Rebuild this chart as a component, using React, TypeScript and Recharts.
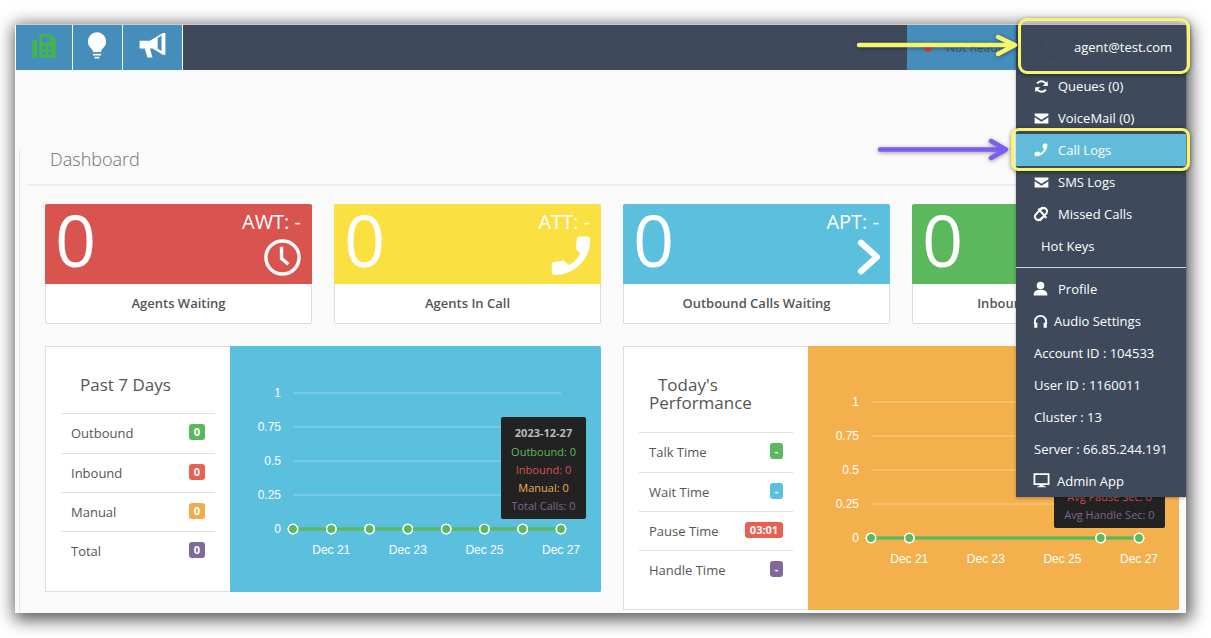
import React from 'react';
import { LineChart, Line, XAxis, YAxis, CartesianGrid, Tooltip } from 'recharts';

// chart values
const dayLabels = ['Dec 20', 'Dec 21', 'Dec 22', 'Dec 23', 'Dec 24', 'Dec 25', 'Dec 26', 'Dec 27'];
const dayDates = ['2023-12-20', '2023-12-21', '2023-12-22', '2023-12-23', '2023-12-24', '2023-12-25', '2023-12-26', '2023-12-27'];
const xTicks = ['Dec 21', 'Dec 23', 'Dec 25', 'Dec 27'];
const yTicks = [0, 0.25, 0.5, 0.75, 1];

const outbound = [0, 0, 0, 0, 0, 0, 0, 0];
const inbound = [0, 0, 0, 0, 0, 0, 0, 0];
const manual = [0, 0, 0, 0, 0, 0, 0, 0];
const totalCalls = [0, 0, 0, 0, 0, 0, 0, 0];

const avgTalk = [0, 0, 0, 0, 0, 0, 0, 0];
const avgWait = [0, 0, 0, 0, 0, 0, 0, 0];
const avgPause = [0, 0, 0, 0, 0, 0, 0, 0];
const avgHandle = [0, 0, 0, 0, 0, 0, 0, 0];

// today's chart only shows markers on these days
const todayMarkedDays = ['Dec 20', 'Dec 21', 'Dec 26', 'Dec 27'];

const GREEN = '#5cb85c';
const RED = '#d9534f';
const ORANGE = '#f0ad4e';
const BLUE = '#5bc0de';
const PURPLE = '#7d6690';
const NAVY = '#3e4a5c';
const FONT = '"Open Sans", sans-serif';

const weekSeries = [
  { name: 'Outbound', values: outbound, color: GREEN },
  { name: 'Inbound', values: inbound, color: RED },
  { name: 'Manual', values: manual, color: ORANGE },
  { name: 'Total Calls', values: totalCalls, color: PURPLE },
];
const todaySeries = [
  { name: 'Avg Talk Sec', values: avgTalk, color: GREEN },
  { name: 'Avg Wait Sec', values: avgWait, color: BLUE },
  { name: 'Avg Pause Sec', values: avgPause, color: RED },
  { name: 'Avg Handle Sec', values: avgHandle, color: PURPLE },
];

const Box = ({ x, y, w, h, style, children }: any) => (
  <div style={{ position: 'absolute', left: x, top: y, width: w, height: h, boxSizing: 'border-box', ...style }}>
    {children}
  </div>
);

// text placed by its vertical centre
const Txt = ({ x, y, right, center, size = 13, color = '#555', weight = 400, children }: any) => (
  <div
    style={{
      position: 'absolute',
      left: center !== undefined ? center - 200 : x,
      width: center !== undefined ? 400 : undefined,
      right: right,
      textAlign: center !== undefined ? 'center' : undefined,
      top: y,
      transform: 'translateY(-50%)',
      fontFamily: FONT,
      fontSize: size,
      fontWeight: weight,
      color,
      lineHeight: 1,
      whiteSpace: 'nowrap',
    }}
  >
    {children}
  </div>
);

const Icon = ({ x, y, size = 16, view = '0 0 24 24', children }: any) => (
  <svg style={{ position: 'absolute', left: x, top: y }} width={size} height={size} viewBox={view}>
    {children}
  </svg>
);

const phonePath =
  'M20 15.5c-1.2 0-2.5-.2-3.6-.6-.3-.1-.7 0-1 .2l-2.2 2.2c-2.8-1.4-5.2-3.8-6.6-6.6l2.2-2.2c.3-.3.4-.7.2-1-.3-1.1-.5-2.4-.5-3.6 0-.6-.4-1-1-1H4c-.5 0-1 .5-1 1 0 9.4 7.6 17 17 17 .5 0 1-.5 1-1v-3.5c0-.5-.5-.9-1-.9z';

const PhoneIcon = (p: any) => (
  <Icon {...p}>
    <path d={phonePath} fill="#fff" stroke="#fff" strokeWidth={1.2} strokeLinejoin="round" transform="matrix(-1 0 0 1 24 0)" />
  </Icon>
);

const MailIcon = (p: any) => (
  <Icon {...p}>
    <path d="M1 4h22v3l-11 7L1 7z M1 10l11 7 11-7v10H1z" fill="#fff" />
  </Icon>
);

const Badge = ({ x, y, w = 16, color, text }: any) => (
  <Box x={x} y={y} w={w} h={16} style={{ background: color, borderRadius: 3, color: '#fff', fontFamily: FONT, fontSize: 11, fontWeight: 700, textAlign: 'center', lineHeight: '16px' }}>
    {text}
  </Box>
);

const StatCard = ({ x, color, big, label, title, icon }: any) => (
  <>
    <Box x={x} y={204} w={267} h={120} style={{ background: '#fff', border: '1px solid #ddd', borderRadius: 2 }} />
    <Box x={x} y={204} w={267} h={80} style={{ background: color, borderRadius: '2px 2px 0 0' }} />
    <Txt x={x + 10} y={239} size={72} color="#fff" weight={400}>{big}</Txt>
    {label ? <Txt right={1211 - x - 256} y={222} size={20} color="#fff">{label}</Txt> : null}
    <Txt center={x + 133.5} y={303} size={13} color="#555" weight={600}>{title}</Txt>
    {icon}
  </>
);

const chartTooltip = (series: any[]) => ({ payload }: any) => {
  if (!payload || !payload.length) return null;
  return (
    <div
      style={{
        background: '#222',
        borderRadius: 2,
        padding: '7px 0 4px',
        textAlign: 'center',
        fontFamily: FONT,
        fontSize: 11,
        lineHeight: '18px',
        whiteSpace: 'nowrap',
      }}
    >
      <div style={{ color: '#bbb', fontWeight: 700, marginBottom: 1 }}>{payload[0].payload.date}</div>
      {series.map((s) => {
        const item = payload.find((p: any) => p.name === s.name);
        return (
          <div key={s.name} style={{ color: s.color }}>
            {s.name}: {item ? item.value : 0}
          </div>
        );
      })}
    </div>
  );
};

const TrendChart = ({ x, y, w, h, series, markedDays, tipX, tipY, tipW }: any) => {
  const rows = dayLabels.map((day, i) => {
    const row: any = { day, date: dayDates[i] };
    series.forEach((s: any) => {
      row[s.name] = s.values[i];
    });
    return row;
  });
  const TipContent = chartTooltip(series);
  const renderDot = (color: string) => (props: any) => {
    const { cx, cy, index, payload } = props;
    if (markedDays && !markedDays.includes(payload.day)) return <g key={index} />;
    return <circle key={index} cx={cx} cy={cy} r={4.6} fill={color} stroke="#fff" strokeWidth={1.4} />;
  };
  return (
    <div style={{ position: 'absolute', left: x, top: y }}>
      <LineChart width={w} height={h} data={rows} margin={{ top: 47, right: 40, left: 13, bottom: 33 }}>
        <CartesianGrid vertical={false} stroke="rgba(255,255,255,0.18)" strokeWidth={2} />
        <XAxis
          dataKey="day"
          ticks={xTicks}
          interval={0}
          height={30}
          axisLine={false}
          tickLine={false}
          tickMargin={10}
          padding={{ left: 0, right: 0 }}
          tick={{ fill: '#fff', fontSize: 12, fontFamily: 'Liberation Sans' }}
        />
        <YAxis
          domain={[0, 1]}
          ticks={yTicks}
          width={50}
          axisLine={false}
          tickLine={false}
          tickMargin={6}
          tick={{ fill: '#fff', fontSize: 12, fontFamily: 'Liberation Sans' }}
        />
        <Tooltip
          active
          defaultIndex={7}
          cursor={false}
          position={{ x: tipX, y: tipY }}
          allowEscapeViewBox={{ x: true, y: true }}
          wrapperStyle={{ width: tipW, outline: 'none' }}
          content={TipContent}
        />
        {[...series].reverse().map((s: any) => (
          <Line
            key={s.name}
            type="linear"
            dataKey={s.name}
            stroke={GREEN}
            strokeWidth={2.4}
            dot={renderDot(GREEN)}
            activeDot={false}
            isAnimationActive={false}
          />
        ))}
      </LineChart>
    </div>
  );
};

const rowLabel = { size: 13, color: '#555' };

export default function App() {
  return (
    <div style={{ position: 'absolute', left: 0, top: 0, width: 1211, height: 638, overflow: 'hidden', background: '#fff' }}>
      <Box x={15} y={24} w={1171} h={589} style={{ background: '#fafafa', boxShadow: '2px 4px 16px 3px rgba(0,0,0,0.65)', borderTop: '1px solid #ccc' }} />

      {/* top bar */}
      <Box x={16} y={25} w={1170} h={45} style={{ background: NAVY }} />
      <Box x={16} y={25} w={56} h={45} style={{ background: '#458dbb' }} />
      <Box x={73} y={25} w={49} h={45} style={{ background: '#458dbb' }} />
      <Box x={123} y={25} w={59} h={45} style={{ background: '#458dbb' }} />
      {[72, 122, 182].map((d) => (
        <Box key={d} x={d} y={25} w={1} h={45} style={{ background: '#fff' }} />
      ))}
      <Box x={907} y={25} w={110} h={45} style={{ background: '#458dbb' }} />
      <Icon x={30} y={32} size={28}>
        <path d="M2 7h4v15H2z M8 2h10l4 4v16H8z" fill="#43b649" />
        <path d="M10 4h7v5h-7z M10.5 12h3v2.500h-3z M15.500 12h3v2.500h-3z M10.500 17h3v2.500h-3z M15.500 17h3v2.500h-3z" fill="#458dbb" />
      </Icon>
      <Icon x={83} y={31} size={28}>
        <path d="M12 1a8 8 0 0 0-5 14c1 1 1.500 2 1.500 3h7c0-1 .5-2 1.500-3a8 8 0 0 0-5-14z M8.500 19.500h7v1.500h-7z M10 22h4v1.500h-4z" fill="#fff" />
      </Icon>
      <Icon x={137} y={29} size={31}>
        <path d="M2 9h8l10-6h2v17h-2l-8-5h-2l2 7H8l-2-7H2z" fill="#fff" />
        <path d="M16 7l3-2v12l-3-2z" fill="#458dbb" />
      </Icon>
      <Txt x={946} y={48} size={12} color="#3e5a70">Not Ready</Txt>
      <Box x={924} y={44} w={8} h={8} style={{ background: '#c9483f', borderRadius: 4 }} />

      <Txt x={50} y={159} size={18} color="#6f6f6f" weight={300}>Dashboard</Txt>
      <Box x={19} y={149} w={1} h={464} style={{ background: '#e5e5e5' }} />
      <Box x={27} y={184} w={1159} h={2} style={{ background: '#eee' }} />

      {/* stat cards */}
      <StatCard
        x={45}
        color={RED}
        big="0"
        label="AWT: -"
        title="Agents Waiting"
        icon={
          <Icon x={263} y={238} size={39} view="0 0 40 40">
            <circle cx={20} cy={20} r={17} fill="none" stroke="#fff" strokeWidth={3.5} />
            <path d="M19 9v12l7 6" fill="none" stroke="#fff" strokeWidth={3.5} />
          </Icon>
        }
      />
      <StatCard x={334} color="#fbe041" big="0" label="ATT: -" title="Agents In Call" icon={<PhoneIcon x={547} y={232} size={48} />} />
      <StatCard
        x={623}
        color="#5bc0de"
        big="0"
        label="APT: -"
        title="Outbound Calls Waiting"
        icon={
          <Icon x={850} y={238} size={38}>
            <path d="M7 3l10 9-10 9" fill="none" stroke="#fff" strokeWidth={4} strokeLinecap="round" strokeLinejoin="round" />
          </Icon>
        }
      />
      <StatCard x={912} color={GREEN} big="0" title="Inbound Calls Waiting" />

      {/* past 7 days */}
      <Box x={45} y={346} w={556} h={246} style={{ background: '#fff', border: '1px solid #ddd' }} />
      <Box x={230} y={346} w={371} h={246} style={{ background: BLUE, borderRadius: '0 2px 2px 0' }} />
      <Txt x={80} y={384} size={17} color="#555">Past 7 Days</Txt>
      {[413, 453, 492, 531].map((d) => (
        <Box key={d} x={61} y={d} w={154} h={1} style={{ background: '#e2e2e2' }} />
      ))}
      <Txt x={71} y={433} {...rowLabel}>Outbound</Txt>
      <Txt x={71} y={473} {...rowLabel}>Inbound</Txt>
      <Txt x={71} y={512} {...rowLabel}>Manual</Txt>
      <Txt x={71} y={551} {...rowLabel}>Total</Txt>
      <Badge x={189} y={424} color={GREEN} text="0" />
      <Badge x={189} y={464} color="#e8604f" text="0" />
      <Badge x={189} y={503} color={ORANGE} text="0" />
      <Badge x={189} y={542} color="#7f6a99" text="0" />
      <TrendChart x={230} y={346} w={371} h={246} series={weekSeries} tipX={271} tipY={71} tipW={85} />

      {/* today's performance */}
      <Box x={623} y={346} w={556} h={264} style={{ background: '#fff', border: '1px solid #ddd' }} />
      <Box x={808} y={346} w={371} h={264} style={{ background: '#f5b04e', borderRadius: '0 2px 2px 0' }} />
      <Txt x={658} y={384} size={17} color="#555">Today's</Txt>
      <Txt x={649} y={402} size={17} color="#555">Performance</Txt>
      {[432, 472, 511, 550].map((d) => (
        <Box key={d} x={639} y={d} w={154} h={1} style={{ background: '#e2e2e2' }} />
      ))}
      <Txt x={649} y={452} {...rowLabel}>Talk Time</Txt>
      <Txt x={649} y={492} {...rowLabel}>Wait Time</Txt>
      <Txt x={649} y={531} {...rowLabel}>Pause Time</Txt>
      <Txt x={649} y={570} {...rowLabel}>Handle Time</Txt>
      <Badge x={770} y={443} w={13} color={GREEN} text="-" />
      <Badge x={770} y={483} w={13} color="#5bc0de" text="-" />
      <Badge x={745} y={522} w={38} color="#e8604f" text="03:01" />
      <Badge x={770} y={561} w={13} color="#7f6a99" text="-" />
      <TrendChart x={808} y={355} w={371} h={246} series={todaySeries} markedDays={todayMarkedDays} tipX={246} tipY={71} tipW={111} />

      {/* dropdown menu */}
      <Box x={1016} y={25} w={170} h={472} style={{ background: NAVY, boxShadow: '0 1px 3px rgba(0,0,0,0.3)' }} />
      <Box x={1016} y={267} w={170} h={1} style={{ background: '#cfd4da' }} />
      <Box x={1016} y={134} w={170} h={32} style={{ background: '#62bcd9' }} />
      <Box x={1040} y={37} w={21} h={21} style={{ border: '1px solid #36445f', borderRadius: 11 }} />
      <Txt x={1074} y={47} size={13} color="#fff">agent@test.com</Txt>
      <Icon x={1034} y={79} size={15}>
        <path d="M20 10a8.500 8.500 0 0 0-15-3M4 14a8.500 8.500 0 0 0 15 3" fill="none" stroke="#fff" strokeWidth={3} />
        <path d="M22 3v8h-8z M2 21v-8h8z" fill="#fff" />
      </Icon>
      <Txt x={1058} y={86} color="#fff">Queues (0)</Txt>
      <MailIcon x={1034} y={111} size={15} />
      <Txt x={1058} y={118} color="#fff">VoiceMail (0)</Txt>
      <PhoneIcon x={1033} y={142} size={16} />
      <Txt x={1058} y={150} color="#fff">Call Logs</Txt>
      <MailIcon x={1034} y={175} size={15} />
      <Txt x={1058} y={182} color="#fff">SMS Logs</Txt>
      <Icon x={1033} y={206} size={16}>
        <path d="M8 4l12 14M16 4l-3-1-9 10a5 5 0 0 0 7 7l3-3M8 20l3 1 9-10a5 5 0 0 0-7-7l-3 3" fill="none" stroke="#fff" strokeWidth={3} />
      </Icon>
      <Txt x={1058} y={214} color="#fff">Missed Calls</Txt>
      <Txt x={1041} y={246} color="#fff">Hot Keys</Txt>
      <Icon x={1033} y={281} size={15}>
        <circle cx={12} cy={7} r={6} fill="#fff" />
        <path d="M1 23c0-7 4-9 11-9s11 2 11 9z" fill="#fff" />
      </Icon>
      <Txt x={1058} y={289} color="#fff">Profile</Txt>
      <Icon x={1033} y={314} size={15}>
        <path d="M3 16v-4a9 9 0 0 1 18 0v4" fill="none" stroke="#fff" strokeWidth={3} />
        <path d="M2 14h5v8H2z M17 14h5v8h-5z" fill="#fff" />
      </Icon>
      <Txt x={1054} y={321} color="#fff">Audio Settings</Txt>
      <Txt x={1034} y={353} color="#fff">Account ID : 104533</Txt>
      <Txt x={1034} y={385} color="#fff">User ID : 1160011</Txt>
      <Txt x={1034} y={417} color="#fff">Cluster : 13</Txt>
      <Txt x={1034} y={449} color="#fff">Server : 66.85.244.191</Txt>
      <Icon x={1033} y={472} size={17}>
        <path d="M2 3h20v14H2z" fill="none" stroke="#fff" strokeWidth={2.5} />
        <path d="M9 18h6v2h3v1.500H6V20h3z" fill="#fff" />
      </Icon>
      <Txt x={1057} y={481} color="#fff">Admin App</Txt>

      {/* annotations */}
      <Box x={1018} y={18} w={172} h={56} style={{ border: '3px solid #f8f56a', borderRadius: 9, boxShadow: '0 1px 4px rgba(0,0,0,0.5)' }} />
      <Box x={1011} y={128} w={179} h={43} style={{ border: '3px solid #f8f56a', borderRadius: 8, boxShadow: '0 1px 4px rgba(0,0,0,0.5)' }} />
      <svg style={{ position: 'absolute', left: 0, top: 0, pointerEvents: 'none', filter: 'drop-shadow(0 1px 2px rgba(0,0,0,0.4))' }} width={1211} height={638}>
        <path d="M859 45H1013M998 37l17 8-17 9" fill="none" stroke="#f8f56a" strokeWidth={4.500} strokeLinecap="round" strokeLinejoin="round" />
        <path d="M880 149.500H1004M991 141l15 8.500-15 8.500" fill="none" stroke="#7d5cf0" strokeWidth={4.500} strokeLinecap="round" strokeLinejoin="round" />
      </svg>
    </div>
  );
}
